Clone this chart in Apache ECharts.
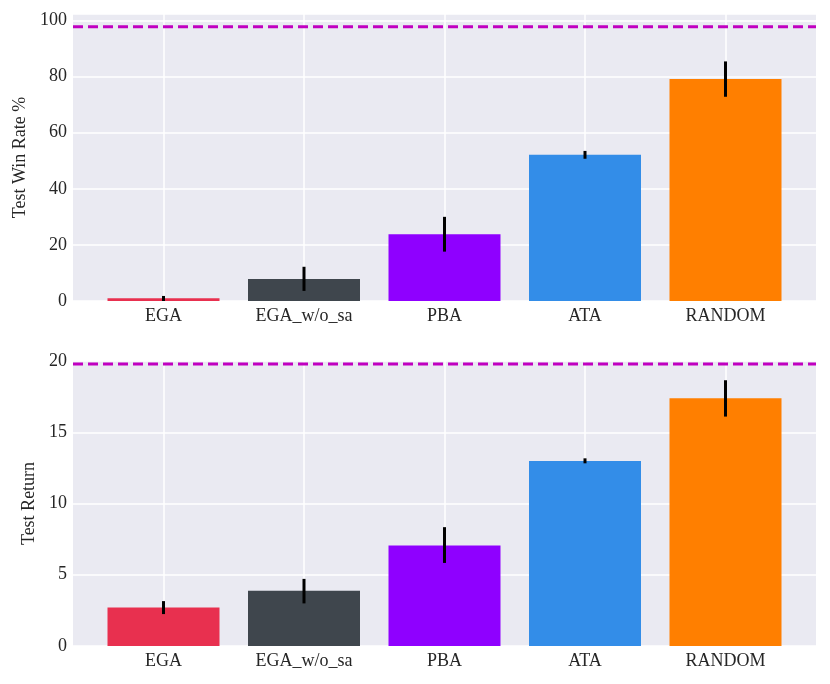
<!DOCTYPE html>
<html>
<head>
<meta charset="utf-8">
<script src="https://cdn.jsdelivr.net/npm/echarts@6/dist/echarts.min.js"></script>
<style>
  html, body { margin: 0; padding: 0; background: #fff; }
  #chart { width: 830px; height: 684px; }
</style>
</head>
<body>
<div id="chart"></div>
<script>
// values
const categories = ["EGA", "EGA_w/o_sa", "PBA", "ATA", "RANDOM"];

const winRate = [0.96, 7.85, 23.8, 52.1, 79.1];
const winRateLow = [0.0, 3.6, 17.6, 50.7, 72.8];
const winRateHigh = [1.8, 12.2, 30.0, 53.5, 85.4];
const winRateBaseline = 97.75;

const testReturn = [2.71, 3.87, 7.06, 12.99, 17.39];
const testReturnLow = [2.24, 2.99, 5.83, 12.82, 16.1];
const testReturnHigh = [3.15, 4.71, 8.34, 13.17, 18.65];
const testReturnBaseline = 19.79;

const winRateTicks = [0, 20, 40, 60, 80, 100];
const testReturnTicks = [0, 5, 10, 15, 20];

const barColors = ["#e8304f", "#3f464d", "#8f00ff", "#338de8", "#ff7f00"];
const textColor = "#262626";
const fontFamily = "Liberation Serif";

const chart = echarts.init(document.getElementById("chart"));

function outerGrid(top, height) {
  return { left: 73, right: 14, top, height, show: true, backgroundColor: "#eaeaf2", borderWidth: 0 };
}

function innerGrid(top, height) {
  return { left: 163.5, right: 104.5, top, height };
}

function categoryAxis(gridIndex) {
  return {
    gridIndex,
    type: "category",
    data: categories,
    boundaryGap: false,
    axisLine: { show: false },
    axisTick: { show: false },
    splitLine: { show: true, lineStyle: { color: "#ffffff", width: 1.5 } },
    axisLabel: { color: textColor, fontFamily, fontSize: 18, margin: 6 },
  };
}

function labelledYAxis(gridIndex, name, max, ticks, nameGap) {
  return {
    gridIndex,
    type: "value",
    min: 0,
    max,
    interval: ticks[1] - ticks[0],
    name,
    nameLocation: "middle",
    nameGap,
    nameTextStyle: { color: textColor, fontFamily, fontSize: 18 },
    axisLine: { show: false },
    axisTick: { show: false },
    splitLine: { show: true, lineStyle: { color: "#ffffff", width: 1.5 } },
    axisLabel: {
      color: textColor,
      fontFamily,
      fontSize: 18,
      margin: 6,
      formatter: (value) => (ticks.includes(value) ? String(value) : ""),
    },
  };
}

function hiddenYAxis(gridIndex, max) {
  return { gridIndex, type: "value", min: 0, max, show: false, splitLine: { show: false } };
}

function barSeries(axisIndex, values) {
  return {
    type: "bar",
    xAxisIndex: axisIndex,
    yAxisIndex: axisIndex,
    barWidth: 112,
    clip: false,
    z: 2,
    data: values.map((value, i) => ({ value, itemStyle: { color: barColors[i] } })),
  };
}

function errorSeries(axisIndex, low, high) {
  return {
    type: "custom",
    xAxisIndex: axisIndex,
    yAxisIndex: axisIndex,
    z: 3,
    encode: { x: 0, y: [1, 2] },
    data: categories.map((_, i) => [i, low[i], high[i]]),
    renderItem: (params, api) => {
      const topPoint = api.coord([api.value(0), api.value(2)]);
      const bottomPoint = api.coord([api.value(0), api.value(1)]);
      return {
        type: "line",
        shape: { x1: topPoint[0], y1: topPoint[1], x2: bottomPoint[0], y2: bottomPoint[1] },
        style: { stroke: "#000000", lineWidth: 3 },
      };
    },
  };
}

function baselineSeries(axisIndex, value) {
  return {
    type: "line",
    xAxisIndex: axisIndex,
    yAxisIndex: axisIndex,
    symbol: "none",
    silent: true,
    z: 4,
    data: [[0, value], [1, value]],
    lineStyle: { color: "#c000c0", width: 3, type: [10, 5] },
  };
}

const option = {
  animation: false,
  backgroundColor: "#ffffff",
  grid: [
    outerGrid(14, 287),
    innerGrid(14, 287),
    outerGrid(361, 285),
    innerGrid(361, 285),
  ],
  xAxis: [
    { gridIndex: 0, type: "value", min: 0, max: 1, show: false },
    categoryAxis(1),
    { gridIndex: 2, type: "value", min: 0, max: 1, show: false },
    categoryAxis(3),
  ],
  yAxis: [
    labelledYAxis(0, "Test Win Rate %", 102.3, winRateTicks, 41),
    hiddenYAxis(1, 102.3),
    labelledYAxis(2, "Test Return", 20, testReturnTicks, 33),
    hiddenYAxis(3, 20),
  ],
  series: [
    baselineSeries(0, winRateBaseline),
    barSeries(1, winRate),
    errorSeries(1, winRateLow, winRateHigh),
    baselineSeries(2, testReturnBaseline),
    barSeries(3, testReturn),
    errorSeries(3, testReturnLow, testReturnHigh),
  ],
};

chart.setOption(option);
</script>
</body>
</html>
